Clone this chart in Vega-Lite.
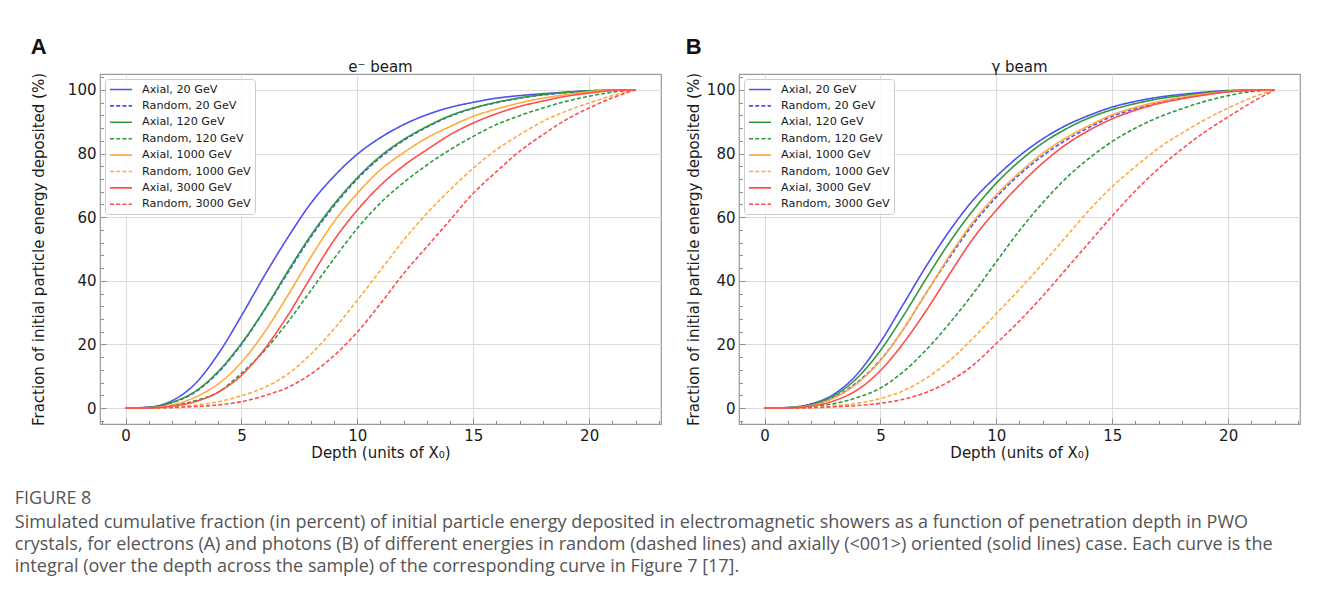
{
"$schema": "https://vega.github.io/schema/vega-lite/v6.json",
"background": "white",
"padding": {"left": 14, "top": 35, "right": 10, "bottom": 10},
"config": {
  "font": "DejaVu Sans",
  "view": {"stroke": "#9a9a9a", "strokeWidth": 1.2},
  "concat": {"spacing": 23},
  "axis": {"domain": false, "grid": true, "gridColor": "#dcdcdc", "gridWidth": 1, "tickColor": "#8c8c8c", "tickWidth": 1, "labelFont": "DejaVu Sans", "labelFontSize": 15, "labelColor": "#1a1a1a", "titleFont": "DejaVu Sans", "titleFontSize": 15, "titleFontWeight": "normal", "titleColor": "#1a1a1a", "labelPadding": 10, "labelOverlap": false, "labelFlush": false},
  "legend": {"orient": "top-left", "offset": 5, "fillColor": "rgba(255,255,255,0.85)", "strokeColor": "#cccccc", "cornerRadius": 3, "padding": 4, "labelFont": "DejaVu Sans", "labelFontSize": 11.2, "labelColor": "#1a1a1a", "symbolType": "M-1,0H3", "symbolSize": 121, "symbolStrokeWidth": 1.6, "labelOffset": 20, "rowPadding": 4.4, "labelLimit": 0}
},
"title": {"text": "FIGURE 8", "subtitle": ["Simulated cumulative fraction (in percent) of initial particle energy deposited in electromagnetic showers as a function of penetration depth in PWO", "crystals, for electrons (A) and photons (B) of different energies in random (dashed lines) and axially (<001>) oriented (solid lines) case. Each curve is the", "integral (over the depth across the sample) of the corresponding curve in Figure 7 [17]."], "orient": "bottom", "anchor": "start", "frame": "bounds", "dx": -16, "offset": 29, "font": "Open Sans", "fontSize": 18, "fontWeight": "normal", "color": "#555555", "subtitleFont": "Open Sans", "subtitleFontSize": 18, "subtitleColor": "#555555", "subtitleLineHeight": 22, "subtitlePadding": 6},
"datasets": {
"A": [
{"series":"Axial, 20 GeV","x":0,"y":0},{"series":"Axial, 20 GeV","x":1,"y":0.3},{"series":"Axial, 20 GeV","x":2,"y":2.3},{"series":"Axial, 20 GeV","x":3,"y":7.6},{"series":"Axial, 20 GeV","x":4,"y":17.0},{"series":"Axial, 20 GeV","x":5,"y":29.0},{"series":"Axial, 20 GeV","x":6,"y":41.7},{"series":"Axial, 20 GeV","x":7,"y":53.6},{"series":"Axial, 20 GeV","x":8,"y":64.4},{"series":"Axial, 20 GeV","x":9,"y":72.9},{"series":"Axial, 20 GeV","x":10,"y":79.8},{"series":"Axial, 20 GeV","x":11,"y":85.0},{"series":"Axial, 20 GeV","x":12,"y":89.1},{"series":"Axial, 20 GeV","x":13,"y":92.2},{"series":"Axial, 20 GeV","x":14,"y":94.5},{"series":"Axial, 20 GeV","x":15,"y":96.1},{"series":"Axial, 20 GeV","x":16,"y":97.4},{"series":"Axial, 20 GeV","x":17,"y":98.2},{"series":"Axial, 20 GeV","x":18,"y":98.8},{"series":"Axial, 20 GeV","x":19,"y":99.3},{"series":"Axial, 20 GeV","x":20,"y":99.7},{"series":"Axial, 20 GeV","x":21,"y":99.9},{"series":"Axial, 20 GeV","x":22,"y":100},
{"series":"Random, 20 GeV","x":0,"y":0},{"series":"Random, 20 GeV","x":1,"y":0.2},{"series":"Random, 20 GeV","x":2,"y":1.7},{"series":"Random, 20 GeV","x":3,"y":5.0},{"series":"Random, 20 GeV","x":4,"y":11.2},{"series":"Random, 20 GeV","x":5,"y":20.0},{"series":"Random, 20 GeV","x":6,"y":30.8},{"series":"Random, 20 GeV","x":7,"y":42.5},{"series":"Random, 20 GeV","x":8,"y":53.8},{"series":"Random, 20 GeV","x":9,"y":63.6},{"series":"Random, 20 GeV","x":10,"y":72.0},{"series":"Random, 20 GeV","x":11,"y":78.8},{"series":"Random, 20 GeV","x":12,"y":84.1},{"series":"Random, 20 GeV","x":13,"y":88.3},{"series":"Random, 20 GeV","x":14,"y":91.7},{"series":"Random, 20 GeV","x":15,"y":94.2},{"series":"Random, 20 GeV","x":16,"y":96.0},{"series":"Random, 20 GeV","x":17,"y":97.4},{"series":"Random, 20 GeV","x":18,"y":98.4},{"series":"Random, 20 GeV","x":19,"y":99.1},{"series":"Random, 20 GeV","x":20,"y":99.6},{"series":"Random, 20 GeV","x":21,"y":99.9},{"series":"Random, 20 GeV","x":22,"y":100},
{"series":"Axial, 120 GeV","x":0,"y":0},{"series":"Axial, 120 GeV","x":1,"y":0.2},{"series":"Axial, 120 GeV","x":2,"y":1.8},{"series":"Axial, 120 GeV","x":3,"y":5.2},{"series":"Axial, 120 GeV","x":4,"y":11.5},{"series":"Axial, 120 GeV","x":5,"y":20.3},{"series":"Axial, 120 GeV","x":6,"y":31.0},{"series":"Axial, 120 GeV","x":7,"y":43.0},{"series":"Axial, 120 GeV","x":8,"y":54.3},{"series":"Axial, 120 GeV","x":9,"y":64.1},{"series":"Axial, 120 GeV","x":10,"y":72.4},{"series":"Axial, 120 GeV","x":11,"y":79.2},{"series":"Axial, 120 GeV","x":12,"y":84.4},{"series":"Axial, 120 GeV","x":13,"y":88.5},{"series":"Axial, 120 GeV","x":14,"y":91.9},{"series":"Axial, 120 GeV","x":15,"y":94.3},{"series":"Axial, 120 GeV","x":16,"y":96.1},{"series":"Axial, 120 GeV","x":17,"y":97.5},{"series":"Axial, 120 GeV","x":18,"y":98.5},{"series":"Axial, 120 GeV","x":19,"y":99.2},{"series":"Axial, 120 GeV","x":20,"y":99.7},{"series":"Axial, 120 GeV","x":21,"y":99.9},{"series":"Axial, 120 GeV","x":22,"y":100},
{"series":"Random, 120 GeV","x":0,"y":0},{"series":"Random, 120 GeV","x":1,"y":0.05},{"series":"Random, 120 GeV","x":2,"y":0.7},{"series":"Random, 120 GeV","x":3,"y":2.3},{"series":"Random, 120 GeV","x":4,"y":5.0},{"series":"Random, 120 GeV","x":5,"y":10.9},{"series":"Random, 120 GeV","x":6,"y":18.1},{"series":"Random, 120 GeV","x":7,"y":27.0},{"series":"Random, 120 GeV","x":8,"y":37.0},{"series":"Random, 120 GeV","x":9,"y":47.0},{"series":"Random, 120 GeV","x":10,"y":56.5},{"series":"Random, 120 GeV","x":11,"y":64.5},{"series":"Random, 120 GeV","x":12,"y":70.9},{"series":"Random, 120 GeV","x":13,"y":76.4},{"series":"Random, 120 GeV","x":14,"y":81.2},{"series":"Random, 120 GeV","x":15,"y":85.4},{"series":"Random, 120 GeV","x":16,"y":89.1},{"series":"Random, 120 GeV","x":17,"y":91.9},{"series":"Random, 120 GeV","x":18,"y":94.3},{"series":"Random, 120 GeV","x":19,"y":96.4},{"series":"Random, 120 GeV","x":20,"y":98.0},{"series":"Random, 120 GeV","x":21,"y":99.3},{"series":"Random, 120 GeV","x":22,"y":100},
{"series":"Axial, 1000 GeV","x":0,"y":0},{"series":"Axial, 1000 GeV","x":1,"y":0.1},{"series":"Axial, 1000 GeV","x":2,"y":1.0},{"series":"Axial, 1000 GeV","x":3,"y":3.4},{"series":"Axial, 1000 GeV","x":4,"y":7.6},{"series":"Axial, 1000 GeV","x":5,"y":14.4},{"series":"Axial, 1000 GeV","x":6,"y":23.9},{"series":"Axial, 1000 GeV","x":7,"y":35.4},{"series":"Axial, 1000 GeV","x":8,"y":47.5},{"series":"Axial, 1000 GeV","x":9,"y":58.6},{"series":"Axial, 1000 GeV","x":10,"y":67.5},{"series":"Axial, 1000 GeV","x":11,"y":74.9},{"series":"Axial, 1000 GeV","x":12,"y":80.3},{"series":"Axial, 1000 GeV","x":13,"y":84.9},{"series":"Axial, 1000 GeV","x":14,"y":88.5},{"series":"Axial, 1000 GeV","x":15,"y":91.7},{"series":"Axial, 1000 GeV","x":16,"y":94.0},{"series":"Axial, 1000 GeV","x":17,"y":95.9},{"series":"Axial, 1000 GeV","x":18,"y":97.4},{"series":"Axial, 1000 GeV","x":19,"y":98.5},{"series":"Axial, 1000 GeV","x":20,"y":99.4},{"series":"Axial, 1000 GeV","x":21,"y":99.9},{"series":"Axial, 1000 GeV","x":22,"y":100},
{"series":"Random, 1000 GeV","x":0,"y":0},{"series":"Random, 1000 GeV","x":1,"y":0},{"series":"Random, 1000 GeV","x":2,"y":0.3},{"series":"Random, 1000 GeV","x":3,"y":0.9},{"series":"Random, 1000 GeV","x":4,"y":2.0},{"series":"Random, 1000 GeV","x":5,"y":3.9},{"series":"Random, 1000 GeV","x":6,"y":6.5},{"series":"Random, 1000 GeV","x":7,"y":10.7},{"series":"Random, 1000 GeV","x":8,"y":17.0},{"series":"Random, 1000 GeV","x":9,"y":24.9},{"series":"Random, 1000 GeV","x":10,"y":33.9},{"series":"Random, 1000 GeV","x":11,"y":43.3},{"series":"Random, 1000 GeV","x":12,"y":52.8},{"series":"Random, 1000 GeV","x":13,"y":61.2},{"series":"Random, 1000 GeV","x":14,"y":68.6},{"series":"Random, 1000 GeV","x":15,"y":75.4},{"series":"Random, 1000 GeV","x":16,"y":81.2},{"series":"Random, 1000 GeV","x":17,"y":85.9},{"series":"Random, 1000 GeV","x":18,"y":90.1},{"series":"Random, 1000 GeV","x":19,"y":93.3},{"series":"Random, 1000 GeV","x":20,"y":95.9},{"series":"Random, 1000 GeV","x":21,"y":98.2},{"series":"Random, 1000 GeV","x":22,"y":100},
{"series":"Axial, 3000 GeV","x":0,"y":0},{"series":"Axial, 3000 GeV","x":1,"y":0.05},{"series":"Axial, 3000 GeV","x":2,"y":0.6},{"series":"Axial, 3000 GeV","x":3,"y":2.0},{"series":"Axial, 3000 GeV","x":4,"y":5.0},{"series":"Axial, 3000 GeV","x":5,"y":10.3},{"series":"Axial, 3000 GeV","x":6,"y":18.6},{"series":"Axial, 3000 GeV","x":7,"y":29.1},{"series":"Axial, 3000 GeV","x":8,"y":41.2},{"series":"Axial, 3000 GeV","x":9,"y":52.8},{"series":"Axial, 3000 GeV","x":10,"y":62.2},{"series":"Axial, 3000 GeV","x":11,"y":70.0},{"series":"Axial, 3000 GeV","x":12,"y":76.2},{"series":"Axial, 3000 GeV","x":13,"y":81.2},{"series":"Axial, 3000 GeV","x":14,"y":85.9},{"series":"Axial, 3000 GeV","x":15,"y":89.6},{"series":"Axial, 3000 GeV","x":16,"y":92.5},{"series":"Axial, 3000 GeV","x":17,"y":94.8},{"series":"Axial, 3000 GeV","x":18,"y":96.5},{"series":"Axial, 3000 GeV","x":19,"y":98.0},{"series":"Axial, 3000 GeV","x":20,"y":99.0},{"series":"Axial, 3000 GeV","x":21,"y":99.8},{"series":"Axial, 3000 GeV","x":22,"y":100},
{"series":"Random, 3000 GeV","x":0,"y":0},{"series":"Random, 3000 GeV","x":1,"y":0},{"series":"Random, 3000 GeV","x":2,"y":0.15},{"series":"Random, 3000 GeV","x":3,"y":0.5},{"series":"Random, 3000 GeV","x":4,"y":1.0},{"series":"Random, 3000 GeV","x":5,"y":2.0},{"series":"Random, 3000 GeV","x":6,"y":3.9},{"series":"Random, 3000 GeV","x":7,"y":6.5},{"series":"Random, 3000 GeV","x":8,"y":10.7},{"series":"Random, 3000 GeV","x":9,"y":16.5},{"series":"Random, 3000 GeV","x":10,"y":23.9},{"series":"Random, 3000 GeV","x":11,"y":32.8},{"series":"Random, 3000 GeV","x":12,"y":42.3},{"series":"Random, 3000 GeV","x":13,"y":50.7},{"series":"Random, 3000 GeV","x":14,"y":59.1},{"series":"Random, 3000 GeV","x":15,"y":67.5},{"series":"Random, 3000 GeV","x":16,"y":74.3},{"series":"Random, 3000 GeV","x":17,"y":80.7},{"series":"Random, 3000 GeV","x":18,"y":85.9},{"series":"Random, 3000 GeV","x":19,"y":90.6},{"series":"Random, 3000 GeV","x":20,"y":94.3},{"series":"Random, 3000 GeV","x":21,"y":97.5},{"series":"Random, 3000 GeV","x":22,"y":100}
],
"B": [
{"series":"Axial, 20 GeV","x":0,"y":0},{"series":"Axial, 20 GeV","x":1,"y":0.2},{"series":"Axial, 20 GeV","x":2,"y":1.3},{"series":"Axial, 20 GeV","x":3,"y":4.4},{"series":"Axial, 20 GeV","x":4,"y":10.7},{"series":"Axial, 20 GeV","x":5,"y":20.7},{"series":"Axial, 20 GeV","x":6,"y":32.8},{"series":"Axial, 20 GeV","x":7,"y":44.9},{"series":"Axial, 20 GeV","x":8,"y":55.9},{"series":"Axial, 20 GeV","x":9,"y":65.4},{"series":"Axial, 20 GeV","x":10,"y":72.8},{"series":"Axial, 20 GeV","x":11,"y":79.3},{"series":"Axial, 20 GeV","x":12,"y":84.6},{"series":"Axial, 20 GeV","x":13,"y":88.8},{"series":"Axial, 20 GeV","x":14,"y":92.0},{"series":"Axial, 20 GeV","x":15,"y":94.6},{"series":"Axial, 20 GeV","x":16,"y":96.4},{"series":"Axial, 20 GeV","x":17,"y":97.7},{"series":"Axial, 20 GeV","x":18,"y":98.6},{"series":"Axial, 20 GeV","x":19,"y":99.3},{"series":"Axial, 20 GeV","x":20,"y":99.8},{"series":"Axial, 20 GeV","x":21,"y":99.95},{"series":"Axial, 20 GeV","x":22,"y":100},
{"series":"Random, 20 GeV","x":0,"y":0},{"series":"Random, 20 GeV","x":1,"y":0.1},{"series":"Random, 20 GeV","x":2,"y":0.8},{"series":"Random, 20 GeV","x":3,"y":3.4},{"series":"Random, 20 GeV","x":4,"y":8.1},{"series":"Random, 20 GeV","x":5,"y":15.1},{"series":"Random, 20 GeV","x":6,"y":24.9},{"series":"Random, 20 GeV","x":7,"y":36.5},{"series":"Random, 20 GeV","x":8,"y":47.5},{"series":"Random, 20 GeV","x":9,"y":57.8},{"series":"Random, 20 GeV","x":10,"y":66.3},{"series":"Random, 20 GeV","x":11,"y":73.4},{"series":"Random, 20 GeV","x":12,"y":79.3},{"series":"Random, 20 GeV","x":13,"y":84.2},{"series":"Random, 20 GeV","x":14,"y":88.2},{"series":"Random, 20 GeV","x":15,"y":91.7},{"series":"Random, 20 GeV","x":16,"y":94.1},{"series":"Random, 20 GeV","x":17,"y":96.1},{"series":"Random, 20 GeV","x":18,"y":97.5},{"series":"Random, 20 GeV","x":19,"y":98.6},{"series":"Random, 20 GeV","x":20,"y":99.4},{"series":"Random, 20 GeV","x":21,"y":99.85},{"series":"Random, 20 GeV","x":22,"y":100},
{"series":"Axial, 120 GeV","x":0,"y":0},{"series":"Axial, 120 GeV","x":1,"y":0.15},{"series":"Axial, 120 GeV","x":2,"y":1.1},{"series":"Axial, 120 GeV","x":3,"y":3.9},{"series":"Axial, 120 GeV","x":4,"y":9.5},{"series":"Axial, 120 GeV","x":5,"y":18.1},{"series":"Axial, 120 GeV","x":6,"y":29.1},{"series":"Axial, 120 GeV","x":7,"y":41.0},{"series":"Axial, 120 GeV","x":8,"y":52.3},{"series":"Axial, 120 GeV","x":9,"y":62.2},{"series":"Axial, 120 GeV","x":10,"y":70.7},{"series":"Axial, 120 GeV","x":11,"y":77.6},{"series":"Axial, 120 GeV","x":12,"y":83.3},{"series":"Axial, 120 GeV","x":13,"y":87.7},{"series":"Axial, 120 GeV","x":14,"y":91.2},{"series":"Axial, 120 GeV","x":15,"y":93.8},{"series":"Axial, 120 GeV","x":16,"y":95.7},{"series":"Axial, 120 GeV","x":17,"y":97.2},{"series":"Axial, 120 GeV","x":18,"y":98.2},{"series":"Axial, 120 GeV","x":19,"y":99.0},{"series":"Axial, 120 GeV","x":20,"y":99.7},{"series":"Axial, 120 GeV","x":21,"y":99.9},{"series":"Axial, 120 GeV","x":22,"y":100},
{"series":"Random, 120 GeV","x":0,"y":0},{"series":"Random, 120 GeV","x":1,"y":0},{"series":"Random, 120 GeV","x":2,"y":0.4},{"series":"Random, 120 GeV","x":3,"y":1.4},{"series":"Random, 120 GeV","x":4,"y":3.3},{"series":"Random, 120 GeV","x":5,"y":6.3},{"series":"Random, 120 GeV","x":6,"y":11.5},{"series":"Random, 120 GeV","x":7,"y":18.5},{"series":"Random, 120 GeV","x":8,"y":26.8},{"series":"Random, 120 GeV","x":9,"y":36.0},{"series":"Random, 120 GeV","x":10,"y":46.0},{"series":"Random, 120 GeV","x":11,"y":55.8},{"series":"Random, 120 GeV","x":12,"y":64.5},{"series":"Random, 120 GeV","x":13,"y":72.2},{"series":"Random, 120 GeV","x":14,"y":78.5},{"series":"Random, 120 GeV","x":15,"y":83.8},{"series":"Random, 120 GeV","x":16,"y":88.0},{"series":"Random, 120 GeV","x":17,"y":91.4},{"series":"Random, 120 GeV","x":18,"y":94.1},{"series":"Random, 120 GeV","x":19,"y":96.4},{"series":"Random, 120 GeV","x":20,"y":98.2},{"series":"Random, 120 GeV","x":21,"y":99.5},{"series":"Random, 120 GeV","x":22,"y":100},
{"series":"Axial, 1000 GeV","x":0,"y":0},{"series":"Axial, 1000 GeV","x":1,"y":0.1},{"series":"Axial, 1000 GeV","x":2,"y":0.8},{"series":"Axial, 1000 GeV","x":3,"y":3.2},{"series":"Axial, 1000 GeV","x":4,"y":7.8},{"series":"Axial, 1000 GeV","x":5,"y":14.9},{"series":"Axial, 1000 GeV","x":6,"y":24.9},{"series":"Axial, 1000 GeV","x":7,"y":36.5},{"series":"Axial, 1000 GeV","x":8,"y":48.1},{"series":"Axial, 1000 GeV","x":9,"y":58.6},{"series":"Axial, 1000 GeV","x":10,"y":67.0},{"series":"Axial, 1000 GeV","x":11,"y":74.0},{"series":"Axial, 1000 GeV","x":12,"y":80.1},{"series":"Axial, 1000 GeV","x":13,"y":84.9},{"series":"Axial, 1000 GeV","x":14,"y":88.8},{"series":"Axial, 1000 GeV","x":15,"y":92.2},{"series":"Axial, 1000 GeV","x":16,"y":94.5},{"series":"Axial, 1000 GeV","x":17,"y":96.3},{"series":"Axial, 1000 GeV","x":18,"y":97.7},{"series":"Axial, 1000 GeV","x":19,"y":98.7},{"series":"Axial, 1000 GeV","x":20,"y":99.5},{"series":"Axial, 1000 GeV","x":21,"y":99.9},{"series":"Axial, 1000 GeV","x":22,"y":100},
{"series":"Random, 1000 GeV","x":0,"y":0},{"series":"Random, 1000 GeV","x":1,"y":0},{"series":"Random, 1000 GeV","x":2,"y":0.2},{"series":"Random, 1000 GeV","x":3,"y":0.7},{"series":"Random, 1000 GeV","x":4,"y":1.5},{"series":"Random, 1000 GeV","x":5,"y":3.0},{"series":"Random, 1000 GeV","x":6,"y":5.5},{"series":"Random, 1000 GeV","x":7,"y":9.5},{"series":"Random, 1000 GeV","x":8,"y":15.0},{"series":"Random, 1000 GeV","x":9,"y":22.0},{"series":"Random, 1000 GeV","x":10,"y":29.7},{"series":"Random, 1000 GeV","x":11,"y":37.3},{"series":"Random, 1000 GeV","x":12,"y":45.4},{"series":"Random, 1000 GeV","x":13,"y":53.8},{"series":"Random, 1000 GeV","x":14,"y":62.2},{"series":"Random, 1000 GeV","x":15,"y":69.6},{"series":"Random, 1000 GeV","x":16,"y":75.9},{"series":"Random, 1000 GeV","x":17,"y":81.7},{"series":"Random, 1000 GeV","x":18,"y":86.4},{"series":"Random, 1000 GeV","x":19,"y":90.6},{"series":"Random, 1000 GeV","x":20,"y":94.3},{"series":"Random, 1000 GeV","x":21,"y":97.5},{"series":"Random, 1000 GeV","x":22,"y":100},
{"series":"Axial, 3000 GeV","x":0,"y":0},{"series":"Axial, 3000 GeV","x":1,"y":0.05},{"series":"Axial, 3000 GeV","x":2,"y":0.6},{"series":"Axial, 3000 GeV","x":3,"y":2.3},{"series":"Axial, 3000 GeV","x":4,"y":5.7},{"series":"Axial, 3000 GeV","x":5,"y":11.8},{"series":"Axial, 3000 GeV","x":6,"y":20.5},{"series":"Axial, 3000 GeV","x":7,"y":30.9},{"series":"Axial, 3000 GeV","x":8,"y":42.3},{"series":"Axial, 3000 GeV","x":9,"y":53.3},{"series":"Axial, 3000 GeV","x":10,"y":62.2},{"series":"Axial, 3000 GeV","x":11,"y":70.1},{"series":"Axial, 3000 GeV","x":12,"y":77.0},{"series":"Axial, 3000 GeV","x":13,"y":82.8},{"series":"Axial, 3000 GeV","x":14,"y":87.3},{"series":"Axial, 3000 GeV","x":15,"y":90.9},{"series":"Axial, 3000 GeV","x":16,"y":93.6},{"series":"Axial, 3000 GeV","x":17,"y":95.7},{"series":"Axial, 3000 GeV","x":18,"y":97.2},{"series":"Axial, 3000 GeV","x":19,"y":98.4},{"series":"Axial, 3000 GeV","x":20,"y":99.4},{"series":"Axial, 3000 GeV","x":21,"y":99.85},{"series":"Axial, 3000 GeV","x":22,"y":100},
{"series":"Random, 3000 GeV","x":0,"y":0},{"series":"Random, 3000 GeV","x":1,"y":0},{"series":"Random, 3000 GeV","x":2,"y":0.1},{"series":"Random, 3000 GeV","x":3,"y":0.4},{"series":"Random, 3000 GeV","x":4,"y":0.8},{"series":"Random, 3000 GeV","x":5,"y":1.5},{"series":"Random, 3000 GeV","x":6,"y":2.8},{"series":"Random, 3000 GeV","x":7,"y":5.0},{"series":"Random, 3000 GeV","x":8,"y":8.5},{"series":"Random, 3000 GeV","x":9,"y":13.5},{"series":"Random, 3000 GeV","x":10,"y":20.3},{"series":"Random, 3000 GeV","x":11,"y":27.4},{"series":"Random, 3000 GeV","x":12,"y":35.2},{"series":"Random, 3000 GeV","x":13,"y":43.6},{"series":"Random, 3000 GeV","x":14,"y":52.0},{"series":"Random, 3000 GeV","x":15,"y":60.4},{"series":"Random, 3000 GeV","x":16,"y":68.3},{"series":"Random, 3000 GeV","x":17,"y":75.3},{"series":"Random, 3000 GeV","x":18,"y":81.4},{"series":"Random, 3000 GeV","x":19,"y":86.8},{"series":"Random, 3000 GeV","x":20,"y":91.5},{"series":"Random, 3000 GeV","x":21,"y":96.0},{"series":"Random, 3000 GeV","x":22,"y":100}
]
},
"hconcat": [
  {
    "title": {"text": "A", "anchor": "start", "frame": "bounds", "font": "Liberation Sans", "fontSize": 22, "fontWeight": "bold", "color": "#111111", "offset": 1},
    "resolve": {"scale": {"color": "independent", "strokeDash": "independent"}, "legend": {"color": "independent", "strokeDash": "independent"}},
    "vconcat": [
      {
        "width": 561, "height": 350,
        "title": {"text": "e⁻ beam", "anchor": "middle", "frame": "group", "font": "DejaVu Sans", "fontSize": 15, "fontWeight": "normal", "color": "#1a1a1a", "offset": -5},
        "data": {"name": "A"},
        "mark": {"type": "line", "strokeWidth": 1.6, "interpolate": "monotone"},
        "encoding": {
          "x": {"field": "x", "type": "quantitative", "scale": {"domain": [-1.1, 23.1], "nice": false, "zero": false},
                "axis": {"title": "Depth (units of X₀)", "titlePadding": 0, "values": [-1,0,1,2,3,4,5,6,7,8,9,10,11,12,13,14,15,16,17,18,19,20,21,22,23], "labelExpr": "datum.value % 5 === 0 ? datum.label : ''", "tickSize": {"condition": {"test": "datum.value % 5 === 0", "value": -6}, "value": -3.5}, "gridOpacity": {"condition": {"test": "datum.value % 5 === 0", "value": 1}, "value": 0}}},
          "y": {"field": "y", "type": "quantitative", "scale": {"domain": [-5, 105], "nice": false, "zero": false},
                "axis": {"title": "Fraction of initial particle energy deposited (%)", "titlePadding": 21, "values": [-4,0,4,8,12,16,20,24,28,32,36,40,44,48,52,56,60,64,68,72,76,80,84,88,92,96,100,104], "labelExpr": "datum.value % 20 === 0 ? datum.label : ''", "tickSize": {"condition": {"test": "datum.value % 20 === 0", "value": -6}, "value": -3.5}, "gridOpacity": {"condition": {"test": "datum.value % 20 === 0", "value": 1}, "value": 0}}},
          "color": {"field": "series", "type": "nominal", "scale": {"domain": ["Axial, 20 GeV","Random, 20 GeV","Axial, 120 GeV","Random, 120 GeV","Axial, 1000 GeV","Random, 1000 GeV","Axial, 3000 GeV","Random, 3000 GeV"], "range": ["#4f4ff2","#4f4ff2","#2e9a3e","#2e9a3e","#ffaa40","#ffaa40","#ff4d4d","#ff4d4d"]}, "legend": {"title": null}},
          "strokeDash": {"field": "series", "type": "nominal", "scale": {"domain": ["Axial, 20 GeV","Random, 20 GeV","Axial, 120 GeV","Random, 120 GeV","Axial, 1000 GeV","Random, 1000 GeV","Axial, 3000 GeV","Random, 3000 GeV"], "range": [[1,0],[4,2.2],[1,0],[4,2.2],[1,0],[4,2.2],[1,0],[4,2.2]]}, "legend": {"title": null}}
        }
      }
    ]
  },
  {
    "title": {"text": "B", "anchor": "start", "frame": "bounds", "font": "Liberation Sans", "fontSize": 22, "fontWeight": "bold", "color": "#111111", "offset": 1},
    "resolve": {"scale": {"color": "independent", "strokeDash": "independent"}, "legend": {"color": "independent", "strokeDash": "independent"}},
    "vconcat": [
      {
        "width": 561, "height": 350,
        "title": {"text": "γ beam", "anchor": "middle", "frame": "group", "font": "DejaVu Sans", "fontSize": 15, "fontWeight": "normal", "color": "#1a1a1a", "offset": -5},
        "data": {"name": "B"},
        "mark": {"type": "line", "strokeWidth": 1.6, "interpolate": "monotone"},
        "encoding": {
          "x": {"field": "x", "type": "quantitative", "scale": {"domain": [-1.1, 23.1], "nice": false, "zero": false},
                "axis": {"title": "Depth (units of X₀)", "titlePadding": 0, "values": [-1,0,1,2,3,4,5,6,7,8,9,10,11,12,13,14,15,16,17,18,19,20,21,22,23], "labelExpr": "datum.value % 5 === 0 ? datum.label : ''", "tickSize": {"condition": {"test": "datum.value % 5 === 0", "value": -6}, "value": -3.5}, "gridOpacity": {"condition": {"test": "datum.value % 5 === 0", "value": 1}, "value": 0}}},
          "y": {"field": "y", "type": "quantitative", "scale": {"domain": [-5, 105], "nice": false, "zero": false},
                "axis": {"title": "Fraction of initial particle energy deposited (%)", "titlePadding": 5, "values": [-4,0,4,8,12,16,20,24,28,32,36,40,44,48,52,56,60,64,68,72,76,80,84,88,92,96,100,104], "labelExpr": "datum.value % 20 === 0 ? datum.label : ''", "tickSize": {"condition": {"test": "datum.value % 20 === 0", "value": -6}, "value": -3.5}, "gridOpacity": {"condition": {"test": "datum.value % 20 === 0", "value": 1}, "value": 0}}},
          "color": {"field": "series", "type": "nominal", "scale": {"domain": ["Axial, 20 GeV","Random, 20 GeV","Axial, 120 GeV","Random, 120 GeV","Axial, 1000 GeV","Random, 1000 GeV","Axial, 3000 GeV","Random, 3000 GeV"], "range": ["#4f4ff2","#4f4ff2","#2e9a3e","#2e9a3e","#ffaa40","#ffaa40","#ff4d4d","#ff4d4d"]}, "legend": {"title": null}},
          "strokeDash": {"field": "series", "type": "nominal", "scale": {"domain": ["Axial, 20 GeV","Random, 20 GeV","Axial, 120 GeV","Random, 120 GeV","Axial, 1000 GeV","Random, 1000 GeV","Axial, 3000 GeV","Random, 3000 GeV"], "range": [[1,0],[4,2.2],[1,0],[4,2.2],[1,0],[4,2.2],[1,0],[4,2.2]]}, "legend": {"title": null}}
        }
      }
    ]
  }
],
"resolve": {"scale": {"color": "independent", "strokeDash": "independent"}, "legend": {"color": "independent", "strokeDash": "independent"}}
}
